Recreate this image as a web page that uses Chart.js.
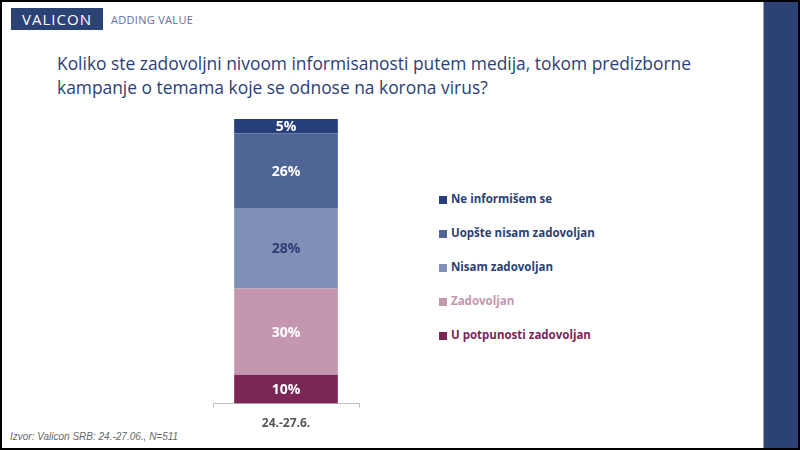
<!DOCTYPE html>
<html>
<head>
<meta charset="utf-8">
<script src="https://cdn.jsdelivr.net/npm/chart.js@4/dist/chart.umd.min.js"></script>
<style>
  html, body { margin: 0; padding: 0; }
  body { width: 800px; height: 450px; position: relative; overflow: hidden; background: #000; font-family: "Open Sans", sans-serif; }
  #slide { position: absolute; left: 2px; top: 2px; width: 796px; height: 446px; background: #fff; overflow: hidden; }
  #band { position: absolute; left: 761px; top: 0; width: 35px; height: 446px; background: #2b4275; border-left: 1px solid #9aa7c4; }
  #logo { position: absolute; left: 9px; top: 6px; width: 92px; height: 22px; background: #2b4275; color: #fff; font-size: 15px; letter-spacing: 1px; line-height: 22px; text-align: center; }
  #tag { position: absolute; left: 109px; top: 10px; color: #5f6f96; font-size: 11px; letter-spacing: 0.3px; }
  #title { position: absolute; left: 55px; top: 49px; color: #2b3f75; font-size: 17.4px; line-height: 24px; }
  #src { position: absolute; left: 8px; top: 429px; color: #666; font-size: 10px; font-style: italic; font-family: "Liberation Sans", sans-serif; }
  #legend { position: absolute; left: 437px; top: 189px; }
  .li { height: 34px; font-size: 11.5px; font-weight: bold; display: flex; align-items: flex-start; }
  .sq { width: 8px; height: 8px; margin: 5px 4px 0 0; }
  #wrap { position: absolute; left: 204px; top: 115px; width: 160px; height: 323px; }
</style>
</head>
<body>
<div id="slide">
  <div id="logo">VALICON</div>
  <div id="tag">ADDING VALUE</div>
  <div id="title">Koliko ste zadovoljni nivoom informisanosti putem medija, tokom predizborne<br>kampanje o temama koje se odnose na korona virus?</div>
  <div id="wrap"><canvas id="chart"></canvas></div>
  <div id="legend"></div>
  <div id="src">Izvor: Valicon SRB: 24.-27.06., N=511</div>
  <div id="band"></div>
</div>
<script>
const periods = ['24.-27.6.'];
const seriesNames = ['U potpunosti zadovoljan', 'Zadovoljan', 'Nisam zadovoljan', 'Uopšte nisam zadovoljan', 'Ne informišem se'];
const seriesValues = [[10], [30], [28], [26], [5]];
const seriesColors = ['#7b2657', '#c497ae', '#7f8fb5', '#4f6596', '#263f7a'];
const labelColors = ['#fff', '#fff', '#2b3f75', '#fff', '#fff'];
const legendTextColors = ['#7b2657', '#c497ae', '#2b3f75', '#2b3f75', '#2b3f75'];

// legend, top item = last series
const legendEl = document.getElementById('legend');
for (let i = seriesNames.length - 1; i >= 0; i--) {
  const row = document.createElement('div');
  row.className = 'li';
  row.style.color = legendTextColors[i];
  row.innerHTML = '<span class="sq" style="background:' + seriesColors[i] + '"></span>' + seriesNames[i];
  legendEl.appendChild(row);
}

const barLabels = {
  id: 'barLabels',
  afterDatasetsDraw(chart) {
    const ctx = chart.ctx;
    ctx.save();
    ctx.font = 'bold 14px "Open Sans", sans-serif';
    ctx.textAlign = 'center';
    ctx.textBaseline = 'middle';
    chart.data.datasets.forEach((ds, i) => {
      chart.getDatasetMeta(i).data.forEach((bar, j) => {
        const p = bar.getProps(['x', 'y', 'base'], true);
        ctx.fillStyle = labelColors[i];
        ctx.fillText(ds.data[j] + '%', p.x, (p.y + p.base) / 2 + 1);
      });
    });
    ctx.restore();
  }
};

new Chart(document.getElementById('chart'), {
  type: 'bar',
  data: {
    labels: periods,
    datasets: seriesNames.map((name, i) => ({
      label: name,
      data: seriesValues[i],
      backgroundColor: seriesColors[i],
      borderWidth: 0,
      barPercentage: 0.71,
      categoryPercentage: 1
    }))
  },
  options: {
    responsive: true,
    maintainAspectRatio: false,
    animation: false,
    layout: { padding: { left: 7, right: 7, top: 2, bottom: 0 } },
    plugins: { legend: { display: false }, tooltip: { enabled: false } },
    scales: {
      x: {
        stacked: true,
        grid: { display: true, drawOnChartArea: false, tickLength: 4, color: '#bfbfbf' },
        border: { color: '#bfbfbf' },
        ticks: { color: '#555', font: { family: '"Open Sans", sans-serif', size: 12, weight: 'bold' }, padding: 9 }
      },
      y: { stacked: true, display: false, min: 0, max: 99 }
    }
  },
  plugins: [barLabels]
});
</script>
</body>
</html>
